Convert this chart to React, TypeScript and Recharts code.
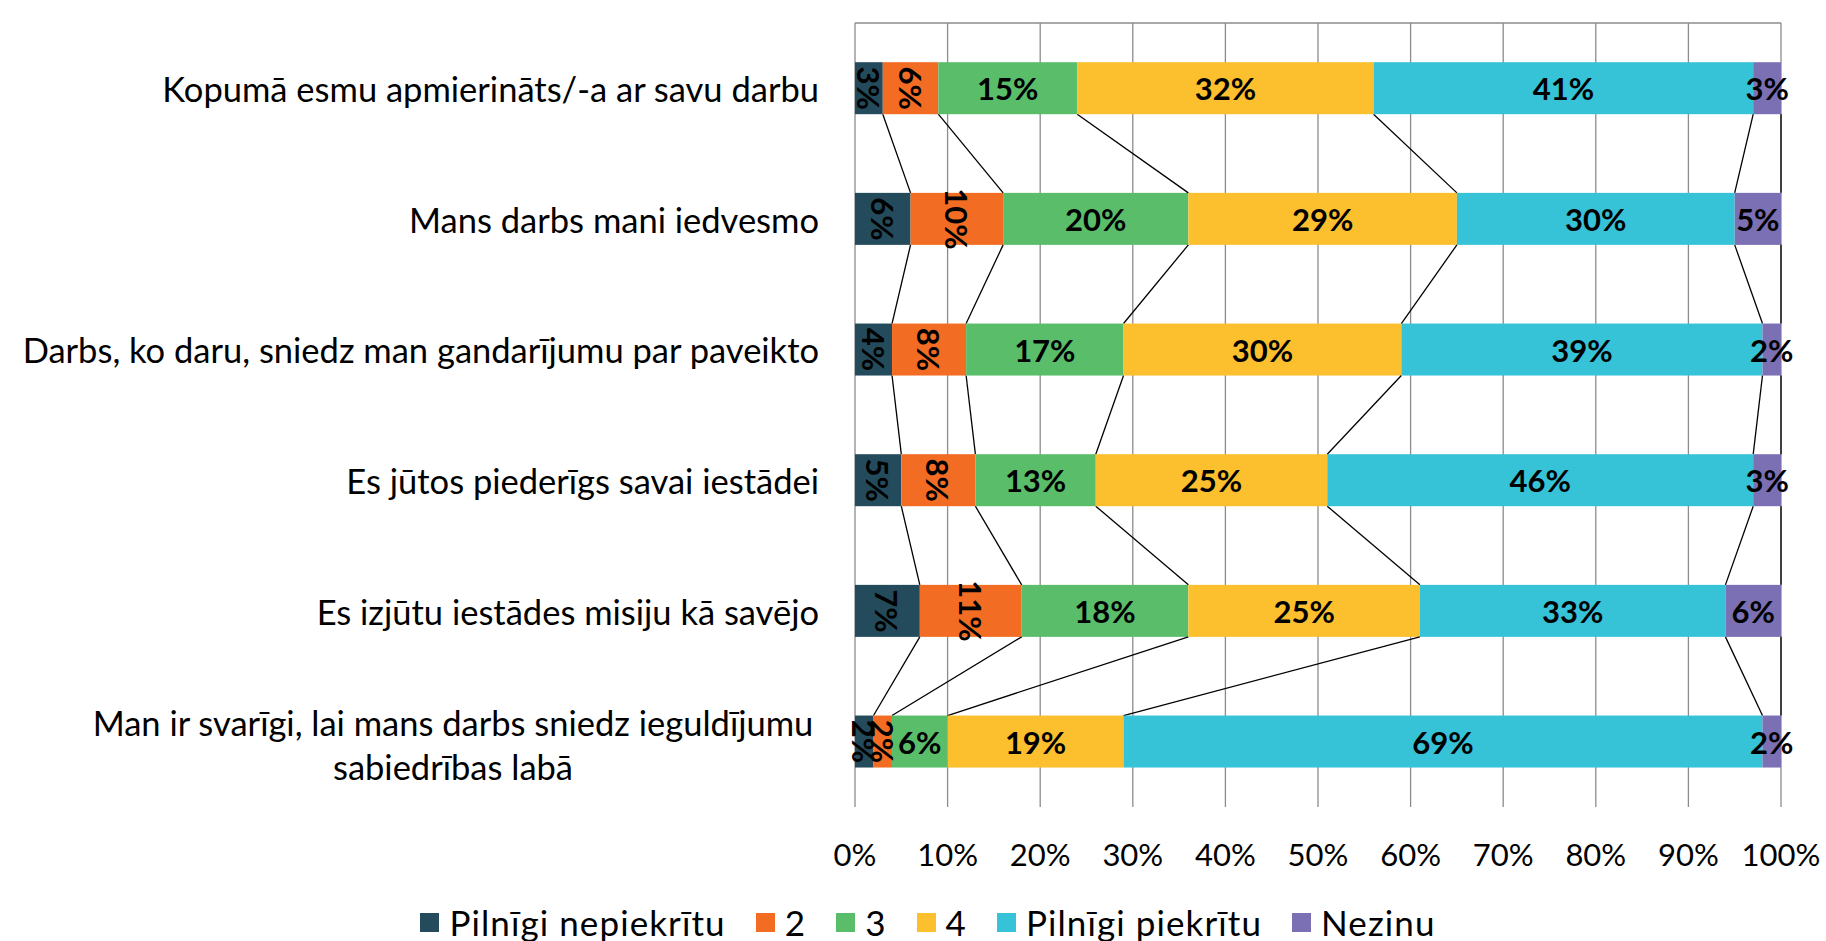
import React from 'react';
import { BarChart, Bar, XAxis, YAxis, CartesianGrid, LabelList, Legend } from 'recharts';

const categories = [
  'Kopumā esmu apmierināts/-a ar savu darbu',
  'Mans darbs mani iedvesmo',
  'Darbs, ko daru, sniedz man gandarījumu par paveikto',
  'Es jūtos piederīgs savai iestādei',
  'Es izjūtu iestādes misiju kā savējo',
  'Man ir svarīgi, lai mans darbs sniedz ieguldījumu\nsabiedrības labā',
];
const seriesNames = ['Pilnīgi nepiekrītu', '2', '3', '4', 'Pilnīgi piekrītu', 'Nezinu'];
const seriesColors = ['#244B5B', '#F26C24', '#5ABD6A', '#FCBF2D', '#36C2D7', '#7A70B3'];
const pilnigiNepiekritu = [3, 6, 4, 5, 7, 2];
const v2 = [6, 10, 8, 8, 11, 2];
const v3 = [15, 20, 17, 13, 18, 6];
const v4 = [32, 29, 30, 25, 25, 19];
const pilnigiPiekritu = [41, 30, 39, 46, 33, 69];
const nezinu = [3, 5, 2, 3, 6, 2];
const xTicks = [0, 10, 20, 30, 40, 50, 60, 70, 80, 90, 100];
const rotatedSeries = [true, true, false, false, false, false];

const seriesValues = [pilnigiNepiekritu, v2, v3, v4, pilnigiPiekritu, nezinu];
const keys = ['s0', 's1', 's2', 's3', 's4', 's5'];
const data = categories.map((name, i) => {
  const row: any = { name };
  keys.forEach((k, j) => (row[k] = seriesValues[j][i]));
  return row;
});

const FONT = 'Lato, "Open Sans", sans-serif';
const GRID = '#8C8C8C';

const edgeStore: Record<string, { right: number; bottom: number }[]> = {};

const makeShape = (key: string, color: string) => (props: any) => {
  const { x, y, width, height, payload } = props;
  const idx = typeof props.index === 'number' ? props.index : categories.indexOf(payload?.name);
  const arr = edgeStore[key] || (edgeStore[key] = []);
  arr[idx] = { right: x + width, bottom: y + height };
  const prev = idx > 0 ? arr[idx - 1] : null;
  return (
    <g>
      <rect x={x} y={y} width={width} height={height} fill={color} />
      {prev && (
        <line x1={prev.right} y1={prev.bottom} x2={x + width} y2={y} stroke="#000" strokeWidth={1.3} />
      )}
    </g>
  );
};

const makeLabel = (rotated: boolean) => (props: any) => {
  const vb = props.viewBox && typeof props.viewBox.width === 'number' ? props.viewBox : props;
  const { x, y, width, height } = vb;
  const cx = x + width / 2;
  const cy = y + height / 2;
  const t = `${props.value}%`;
  return (
    <text
      x={cx}
      y={cy}
      transform={rotated ? `rotate(90 ${cx} ${cy})` : undefined}
      textAnchor="middle"
      dominantBaseline="central"
      fontFamily={FONT}
      fontWeight={700}
      fontSize={31}
      fill="#000"
    >
      {t}
    </text>
  );
};

const YTick = (props: any) => {
  const { x, y, payload } = props;
  const lines = String(payload.value).split('\n');
  if (lines.length === 1) {
    return (
      <text x={x} y={y} textAnchor="end" dominantBaseline="central" fontFamily={FONT} fontSize={34.5} fill="#000">
        {lines[0]}
      </text>
    );
  }
  const lh = 44;
  const cx = x - 366;
  return (
    <text textAnchor="middle" dominantBaseline="central" fontFamily={FONT} fontSize={34.5} fill="#000">
      {lines.map((l, i) => (
        <tspan key={i} x={cx} y={y + 2 + (i - (lines.length - 1) / 2) * lh}>
          {l}
        </tspan>
      ))}
    </text>
  );
};

const LegendContent = () => (
  <div style={{ display: 'flex', justifyContent: 'center', alignItems: 'center', paddingLeft: 30 }}>
    {seriesNames.map((n, i) => (
      <div key={i} style={{ display: 'flex', alignItems: 'center', marginRight: i < seriesNames.length - 1 ? 30 : 0 }}>
        <div style={{ width: 19, height: 19, background: seriesColors[i], marginRight: 10 }} />
        <span style={{ fontFamily: FONT, fontSize: 35, color: '#000', lineHeight: '40px', letterSpacing: '1.1px' }}>{n}</span>
      </div>
    ))}
  </div>
);

export default function App() {
  return (
    <div style={{ position: 'absolute', left: 0, top: 0, background: '#fff' }}>
      <BarChart
        width={1826}
        height={941}
        data={data}
        layout="vertical"
        barCategoryGap="30%"
        margin={{ top: 10, right: 45, left: 0, bottom: 64 }}
      >
        <CartesianGrid horizontal={false} stroke={GRID} strokeWidth={1.3} />
        <XAxis
          xAxisId="top"
          orientation="top"
          type="number"
          domain={[0, 100]}
          ticks={xTicks}
          tickFormatter={() => ''}
          tickSize={12}
          height={13}
          tickLine={{ stroke: GRID, strokeWidth: 1.3 }}
          axisLine={{ stroke: GRID, strokeWidth: 1.3 }}
        />
        <XAxis
          type="number"
          domain={[0, 100]}
          ticks={xTicks}
          interval={0}
          tickFormatter={(v: number) => `${v}%`}
          axisLine={false}
          tickLine={false}
          tickSize={0}
          tickMargin={37}
          height={70}
          tick={{ fill: '#000', fontSize: 31, fontFamily: FONT }}
        />
        <YAxis
          yAxisId="frame"
          type="number"
          domain={[0, 6]}
          ticks={[0, 1, 2, 3, 4, 5, 6]}
          tickFormatter={() => ''}
          tickSize={12}
          width={0}
          tickLine={{ stroke: GRID, strokeWidth: 1.3 }}
          axisLine={{ stroke: GRID, strokeWidth: 1.3 }}
        />
        <YAxis
          type="category"
          dataKey="name"
          width={855}
          interval={0}
          axisLine={false}
          tickLine={false}
          tickSize={0}
          tickMargin={36}
          tick={<YTick />}
        />
        <Legend
          verticalAlign="middle"
          align="center"
          layout="horizontal"
          wrapperStyle={{ top: 902, left: 0, width: 1826 }}
          content={<LegendContent />}
        />
        {keys.map((k, j) => (
          <Bar
            key={k}
            dataKey={k}
            name={seriesNames[j]}
            stackId="a"
            fill={seriesColors[j]}
            isAnimationActive={false}
            shape={makeShape(k, seriesColors[j])}
          >
            <LabelList dataKey={k} content={makeLabel(rotatedSeries[j])} />
          </Bar>
        ))}
      </BarChart>
    </div>
  );
}
